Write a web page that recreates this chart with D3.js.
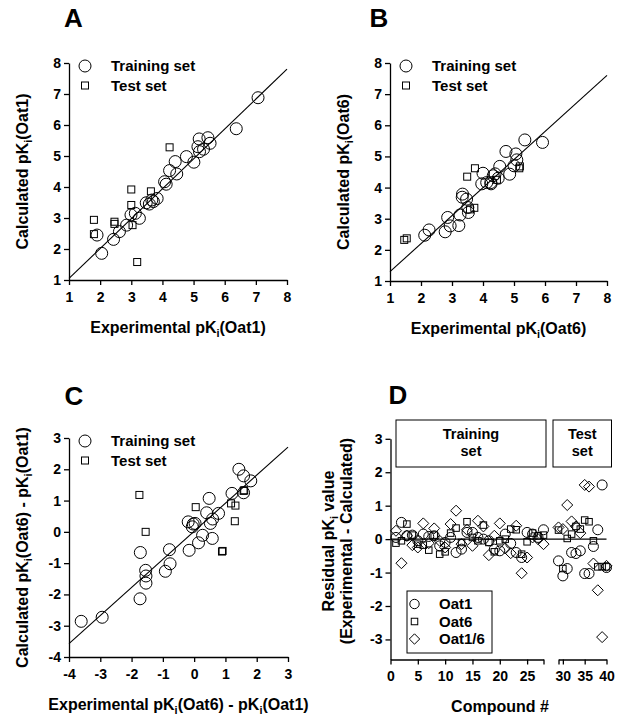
<!DOCTYPE html>
<html><head><meta charset="utf-8">
<script src="https://cdn.jsdelivr.net/npm/d3@7"></script>
<style>
body{margin:0;background:#fff}
text{font-family:"Liberation Sans",Arial,sans-serif;font-weight:bold;fill:#000}
</style>
</head><body>
<svg id="c" width="624" height="716"></svg>
<script>
// ---------- DATA ----------
// Panel A: Oat1
const aTrainExp  = [7.07,6.37,5.46,5.18,5.53,5.14,5.32,5.19,4.77,5.01,4.41,4.23,4.46,4.07,4.12,3.83,3.66,3.48,3.58,3.71,3.13,2.99,3.26,2.85,2.62,2.43,1.90,2.05];
const aTrainCalc = [6.88,5.88,5.59,5.55,5.41,5.30,5.22,5.14,4.98,4.80,4.82,4.53,4.42,4.17,4.09,3.63,3.58,3.49,3.45,3.53,3.15,3.10,2.99,2.77,2.56,2.31,2.45,1.86];
const aTestExp   = [4.23,3.00,3.63,3.00,2.46,2.46,3.04,1.80,1.80,3.19];
const aTestCalc  = [5.28,3.92,3.86,3.42,2.88,2.81,2.77,2.94,2.48,1.58];
const aLine      = [[1,1.05],[8,7.80]];
// Panel B: Oat6
const bTrainExp  = [5.92,5.35,4.74,5.06,5.09,5.00,4.54,4.86,4.00,3.96,4.12,4.25,4.33,4.39,4.26,4.49,3.34,3.33,3.47,3.51,3.53,3.26,3.22,2.86,2.94,2.78,2.26,2.12];
const bTrainCalc = [5.45,5.53,5.16,5.08,4.89,4.70,4.68,4.43,4.46,4.12,4.16,4.16,4.38,4.44,4.12,4.30,3.79,3.69,3.63,3.36,3.20,3.12,2.78,3.04,2.77,2.58,2.64,2.47];
const bTestExp   = [3.49,3.74,3.72,3.58,4.45,5.19,5.17,1.54,1.46];
const bTestCalc  = [4.35,4.62,3.35,3.30,4.25,4.68,4.62,2.37,2.32];
const bLine      = [[1,1.30],[8,7.60]];
// Panel C: Oat6 - Oat1
const cTrainExp  = [1.43,1.58,1.81,1.58,1.21,0.48,0.40,0.78,0.59,0.52,-0.19,-0.03,-0.06,0.03,0.27,0.58,0.14,-0.16,-0.79,-0.77,-0.92,-1.72,-1.55,-1.54,-1.54,-1.73,-2.94,-3.61];
const cTrainCalc = [2.00,1.79,1.63,1.25,1.23,1.07,0.61,0.59,0.41,0.27,0.32,0.25,0.16,0.27,-0.11,-0.21,-0.35,-0.59,-0.57,-1.02,-1.26,-0.66,-1.23,-1.41,-1.64,-2.14,-2.73,-2.86];
const cTestExp   = [-1.75,-1.55,0.05,1.18,1.32,1.58,1.60,1.30,0.89,0.91];
const cTestCalc  = [1.18,0.00,0.79,0.91,0.84,1.31,1.33,0.34,-0.63,-0.61];
const cLine      = [[-4,-3.57],[3,2.71]];
// Panel D: residuals per compound
const dCompound = [1,2,3,4,5,6,7,8,9,10,11,12,13,14,15,16,17,18,19,20,21,22,23,24,25,26,27,28,29,30,31,32,33,34,35,36,37,38,39,40];
const dOat1  = [0.05,0.50,0.10,0.12,-0.05,0.15,0.08,0.10,-0.20,-0.10,0.05,-0.40,-0.30,0.20,0.20,0.05,0.00,-0.05,-0.30,-0.35,0.15,-0.13,-0.40,-0.55,0.20,0.15,0.05,0.28,
                -0.65,-1.10,-0.88,-0.40,-0.43,-0.35,-1.03,-1.03,-0.22,0.28,1.62,-0.85];
const dOat6  = [-0.12,-0.05,0.45,0.12,-0.15,-0.18,-0.33,0.12,-0.45,-0.38,0.18,0.33,-0.10,0.52,0.05,-0.05,0.42,-0.10,-0.38,-0.05,0.00,0.30,0.28,-0.45,-0.08,0.18,0.10,0.12,
                0.27,-0.88,0.02,0.15,0.38,0.30,0.57,0.52,-0.05,-0.83,-0.82,-0.83];
const dOat16 = [0.25,-0.72,0.10,-0.18,-0.25,0.47,-0.12,0.32,-0.05,-0.25,0.45,0.85,-0.15,0.28,-0.20,0.55,0.38,-0.48,0.10,0.47,-0.28,-0.42,0.40,-1.02,-0.55,0.05,0.00,-0.15,
                0.35,0.30,1.02,0.53,0.38,0.18,1.62,1.57,-0.73,-1.53,-2.93,-0.80];
const abTicks = [1,2,3,4,5,6,7,8];
const cTicks = [-4,-3,-2,-1,0,1,2,3];
const dYTicks = [-3,-2,-1,0,1,2,3];
const dXTicksL = [0,5,10,15,20,25,28];
const dXTicksR = [29,30,35,40];

// ---------- DRAW ----------
const svg = d3.select("#c");
const AX = 1.3;
const fmt = d => String(d);

function styleAxis(g){
  g.selectAll("path.domain").attr("stroke","#000").attr("stroke-width",AX);
  g.selectAll(".tick line").attr("stroke","#000").attr("stroke-width",AX);
  g.selectAll(".tick text").attr("font-size",14).attr("font-weight","bold")
    .attr("font-family",'"Liberation Sans",Arial,sans-serif').attr("fill","#000");
}
function richText(sel, segs, size){
  segs.forEach(s=>{
    if(s[1]) { sel.append("tspan").attr("font-size",size*0.68).attr("dy",size*0.28).text(s[0]); }
    else if(s[2]) { sel.append("tspan").attr("dy",-size*0.28).text(s[0]); }
    else sel.append("tspan").text(s[0]);
  });
}
function circle(g,x,y,r){ g.append("circle").attr("cx",x).attr("cy",y).attr("r",r).attr("fill","none").attr("stroke","#000").attr("stroke-width",1); }
function square(g,x,y,s){ g.append("rect").attr("x",x-s/2).attr("y",y-s/2).attr("width",s).attr("height",s).attr("fill","none").attr("stroke","#000").attr("stroke-width",1); }
function diamond(g,x,y,s){ g.append("path").attr("d",`M${x},${y-s}L${x+s},${y}L${x},${y+s}L${x-s},${y}Z`).attr("fill","none").attr("stroke","#000").attr("stroke-width",1); }

function scatterPanel(o){
  const g = svg.append("g");
  const x = d3.scaleLinear().domain(o.xd).range(o.xr);
  const y = d3.scaleLinear().domain(o.yd).range(o.yr);
  g.append("g").attr("transform",`translate(0,${o.yr[0]})`)
    .call(d3.axisBottom(x).tickValues(o.ticks).tickFormat(fmt).tickSize(5).tickPadding(7).tickSizeOuter(0)).call(styleAxis);
  g.append("g").attr("transform",`translate(${o.xr[0]},0)`)
    .call(d3.axisLeft(y).tickValues(o.ticks).tickFormat(fmt).tickSize(5).tickPadding(3).tickSizeOuter(0)).call(styleAxis);
  g.append("line").attr("x1",x(o.line[0][0])).attr("y1",y(o.line[0][1]))
    .attr("x2",x(o.line[1][0])).attr("y2",y(o.line[1][1])).attr("stroke","#000").attr("stroke-width",1.1);
  o.trX.forEach((v,i)=>circle(g,x(v),y(o.trY[i]),6));
  o.teX.forEach((v,i)=>square(g,x(v),y(o.teY[i]),7));
  const lx = o.xr[0]+16, ly = o.yr[1]+3;
  circle(g,lx,ly,6); square(g,lx,ly+19.5,7);
  g.append("text").attr("x",lx+26).attr("y",ly+5).attr("font-size",15).text("Training set");
  g.append("text").attr("x",lx+26).attr("y",ly+24.5).attr("font-size",15).text("Test set");
  const cx = (o.xr[0]+o.xr[1])/2, cy = (o.yr[0]+o.yr[1])/2;
  richText(g.append("text").attr("x",cx).attr("y",o.yr[0]+53).attr("text-anchor","middle").attr("font-size",16), o.xt, 16);
  richText(g.append("text").attr("transform",`translate(${o.xr[0]-41},${cy}) rotate(-90)`).attr("text-anchor","middle").attr("font-size",16), o.yt, 16);
  g.append("text").attr("x",o.lab[0]).attr("y",o.lab[1]).attr("text-anchor","middle").attr("font-size",26).text(o.letter);
}

scatterPanel({xd:[1,8],yd:[1,8],xr:[69,287],yr:[280,63],line:aLine,ticks:abTicks,
  trX:aTrainExp,trY:aTrainCalc,teX:aTestExp,teY:aTestCalc,
  xt:[["Experimental pK"],["i",1],["(Oat1)",0,1]], yt:[["Calculated pK"],["i",1],["(Oat1)",0,1]],
  letter:"A", lab:[73.5,27]});
scatterPanel({xd:[1,8],yd:[1,8],xr:[390,607],yr:[281,63],line:bLine,ticks:abTicks,
  trX:bTrainExp,trY:bTrainCalc,teX:bTestExp,teY:bTestCalc,
  xt:[["Experimental pK"],["i",1],["(Oat6)",0,1]], yt:[["Calculated pK"],["i",1],["(Oat6)",0,1]],
  letter:"B", lab:[379,27]});
scatterPanel({xd:[-4,3],yd:[-4,3],xr:[69,288],yr:[657,438],line:cLine,ticks:cTicks,
  trX:cTrainExp,trY:cTrainCalc,teX:cTestExp,teY:cTestCalc,
  xt:[["Experimental pK"],["i",1],["(Oat6) - pK",0,1],["i",1],["(Oat1)",0,1]],
  yt:[["Calculated pK"],["i",1],["(Oat6) - pK",0,1],["i",1],["(Oat1)",0,1]],
  letter:"C", lab:[74,405]});

// Panel D
(function(){
  const g = svg.append("g");
  const xL = d3.scaleLinear().domain([0,28]).range([390.5,543.5]);
  const xR = d3.scaleLinear().domain([29,40]).range([558.5,606.5]);
  const y = d3.scaleLinear().domain([-3.6,3]).range([659.5,438.8]);
  const X = n => n<=28 ? xL(n) : xR(n);
  const y0 = 659.5;
  g.append("g").attr("transform",`translate(0,${y0})`)
    .call(d3.axisBottom(xL).tickValues(dXTicksL).tickFormat(d=>d===28?"":String(d)).tickSize(5).tickPadding(7).tickSizeOuter(0)).call(styleAxis);
  g.append("g").attr("transform",`translate(0,${y0})`)
    .call(d3.axisBottom(xR).tickValues(dXTicksR).tickFormat(d=>d===29?"":String(d)).tickSize(5).tickPadding(7).tickSizeOuter(0)).call(styleAxis);
  g.append("g").attr("transform",`translate(390.5,0)`)
    .call(d3.axisLeft(y).tickValues(dYTicks).tickFormat(fmt).tickSize(5).tickPadding(3).tickSizeOuter(0)).call(styleAxis);
  g.append("line").attr("x1",xL(0)).attr("x2",xR(40)).attr("y1",y(0)).attr("y2",y(0)).attr("stroke","#000").attr("stroke-width",1.2);
  [[396,546,["Training","set"]],[553,611.5,["Test","set"]]].forEach(b=>{
    g.append("rect").attr("x",b[0]).attr("y",420).attr("width",b[1]-b[0]).attr("height",47).attr("fill","#fff").attr("stroke","#000").attr("stroke-width",1);
    g.append("text").attr("x",(b[0]+b[1])/2).attr("y",439).attr("text-anchor","middle").attr("font-size",14.5).text(b[2][0]);
    g.append("text").attr("x",(b[0]+b[1])/2).attr("y",456).attr("text-anchor","middle").attr("font-size",14.5).text(b[2][1]);
  });
  dCompound.forEach((n,i)=>{
    circle(g,X(n),y(dOat1[i]),5);
    square(g,X(n),y(dOat6[i]),6.5);
    diamond(g,X(n),y(dOat16[i]),5.5);
  });
  g.append("rect").attr("x",407).attr("y",591).attr("width",85).attr("height",62).attr("fill","#fff").attr("stroke","#000").attr("stroke-width",1);
  circle(g,414.5,604,4.7); square(g,414.5,621.5,6.5); diamond(g,414.5,639,5.2);
  [["Oat1",609],["Oat6",626.5],["Oat1/6",644]].forEach(t=>g.append("text").attr("x",439).attr("y",t[1]).attr("font-size",15).text(t[0]));
  g.append("text").attr("x",500).attr("y",712).attr("text-anchor","middle").attr("font-size",16).text("Compound #");
  richText(g.append("text").attr("transform",`translate(334,541) rotate(-90)`).attr("text-anchor","middle").attr("font-size",16),
    [["Residual pK"],["i",1],[" value",0,1]],16);
  g.append("text").attr("transform",`translate(352,541) rotate(-90)`).attr("text-anchor","middle").attr("font-size",16).text("(Experimental - Calculated)");
  g.append("text").attr("x",398).attr("y",404).attr("text-anchor","middle").attr("font-size",26).text("D");
})();
</script>
</body></html>
